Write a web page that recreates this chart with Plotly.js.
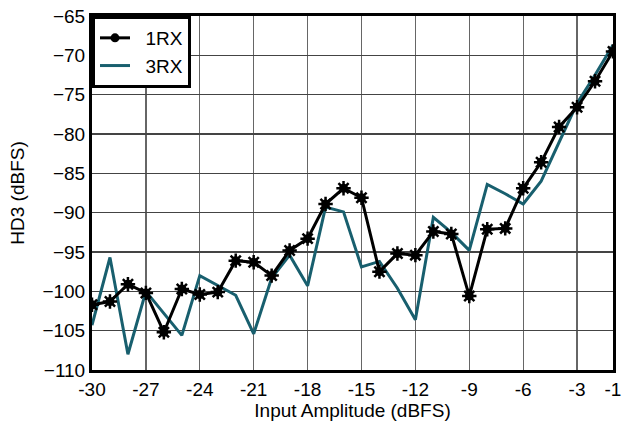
<!DOCTYPE html>
<html><head><meta charset="utf-8">
<script src="https://cdn.plot.ly/plotly-3.0.1.min.js"></script>
<style>html,body{margin:0;padding:0;background:#fff}#chart{width:631px;height:423px}</style>
</head><body><div id="chart"></div>
<script>
const amplitude = [-30,-29,-28,-27,-26,-25,-24,-23,-22,-21,-20,-19,-18,-17,-16,-15,-14,-13,-12,-11,-10,-9,-8,-7,-6,-5,-4,-3,-2,-1];
const hd3_1rx = [-101.7,-101.3,-99.1,-100.2,-105.2,-99.7,-100.4,-100.1,-96.1,-96.3,-98.0,-94.8,-93.3,-88.9,-86.9,-88.1,-97.5,-95.2,-95.4,-92.4,-92.7,-100.6,-92.1,-92.0,-86.9,-83.6,-79.1,-76.6,-73.3,-69.5];
const hd3_3rx = [-104.3,-95.7,-108.0,-100.0,-102.8,-105.6,-98.0,-99.2,-100.5,-105.4,-98.3,-95.4,-99.3,-89.3,-89.9,-96.9,-96.2,-99.6,-103.6,-90.6,-92.5,-94.8,-86.4,-87.6,-88.9,-86.0,-81.0,-76.1,-72.5,-68.7];
const xTicks = [-30,-27,-24,-21,-18,-15,-12,-9,-6,-3,-1];
const xTickText = ['-30','-27','-24','-21','-18','-15','-12','-9','-6','-3','-1'];
const yTicks = [-110,-105,-100,-95,-90,-85,-80,-75,-70,-65];
const seriesNames = ['\u00a0\u00a01RX', '\u00a0\u00a03RX'];

const FF = 'Liberation Sans, Arial, sans-serif';
const font = {family:FF, size:19, color:'#000'};
const traces = [
  {x:amplitude, y:hd3_3rx, name:seriesNames[1], mode:'lines', line:{color:'#185F6E', width:3}, legendrank:2},
  {x:amplitude, y:hd3_1rx, name:seriesNames[0], mode:'lines+markers', line:{color:'#000', width:3},
   marker:{symbol:'circle', size:9, color:'#000'}, legendrank:1},
  {x:amplitude, y:hd3_1rx, name:'1RX*', mode:'markers', showlegend:false, hoverinfo:'skip',
   marker:{symbol:'asterisk-open', size:12, color:'#000', line:{color:'#000', width:2.5}}}
];
const layout = {
  width:631, height:423,
  margin:{l:92, r:18, t:16, b:53},
  paper_bgcolor:'#fff', plot_bgcolor:'#fff',
  font:font,
  showlegend:true,
  legend:{x:0, y:1, xanchor:'left', yanchor:'top', bgcolor:'#fff', bordercolor:'#000', borderwidth:3,
    font:{family:FF, size:19, color:'#000'}, tracegroupgap:0},
  xaxis:{range:[-30,-1], tickvals:xTicks, ticktext:xTickText, showgrid:true, gridcolor:'#666', gridwidth:1.3,
    zeroline:false, showline:true, linecolor:'#000', linewidth:3, mirror:true, ticks:'',
    tickfont:font, title:{text:'Input Amplitude (dBFS)', font:font, standoff:2}},
  yaxis:{range:[-110,-65], tickvals:yTicks, showgrid:true, gridcolor:'#444', gridwidth:1.3,
    zeroline:false, showline:true, linecolor:'#000', linewidth:3, mirror:true, ticks:'',
    tickfont:font, title:{text:'HD3 (dBFS)', font:font, standoff:13}}
};
Plotly.newPlot('chart', traces, layout, {staticPlot:true});
</script></body></html>
